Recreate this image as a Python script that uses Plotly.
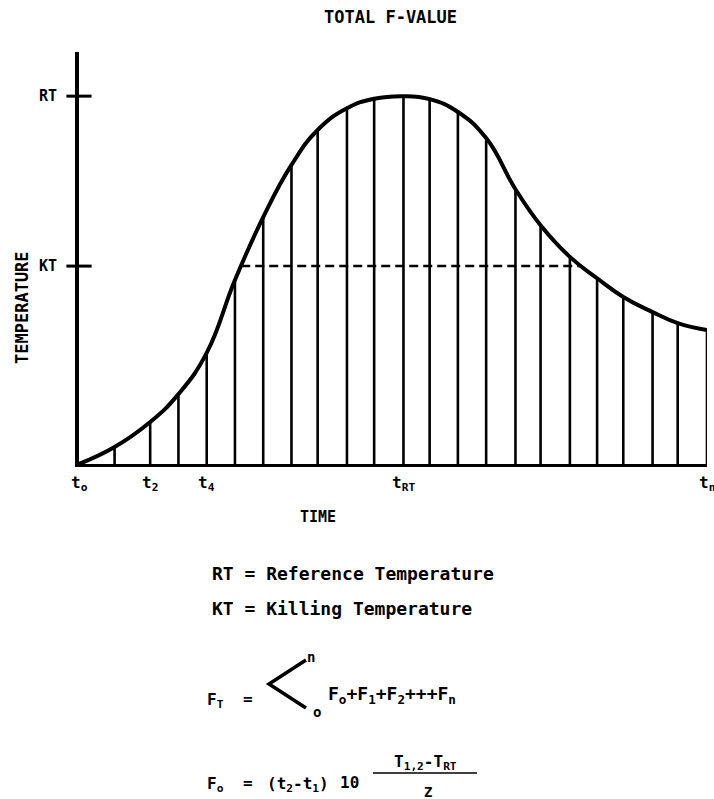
import plotly.graph_objects as go

# ---- data ----
time_min = [0, 3.4, 6.8, 9.5, 12.2, 14.9, 17.6, 20.3, 22.8, 25.6, 28.2, 31.0,
            33.5, 36.2, 38.9, 41.7, 44.1, 46.9, 49.5, 52.0, 54.8, 57.2, 60.0]
temperature = [0, 4.6, 11.4, 19.0, 30.2, 50.0, 67.1, 81.3, 90.8, 96.7, 99.3, 100.0,
               99.2, 95.7, 88.6, 74.7, 64.9, 56.3, 50.5, 45.4, 41.3, 38.3, 36.4]
RT = 100.0
KT = 53.8
y_ticks = [RT, KT]
y_ticktext = ["RT", "KT"]
x_tick_idx = [0, 2, 4, 11, 22]
x_ticktext = ["t<sub>o</sub>", "t<sub>2</sub>", "t<sub>4</sub>", "t<sub>RT</sub>", "t<sub>n</sub>"]

FONT = "DejaVu Sans Mono"
W, H = 714, 799
L, R, T, B = 79, 7, 52, 335
PW, PH = W - L - R, H - T - B


def px(x):
    return (x - L) / PW


def py(y):
    return (H - B - y) / PH


def interp_cross(level, rising=True):
    pairs = list(zip(time_min, temperature))
    for i in range(len(pairs) - 1):
        (x0, y0), (x1, y1) = pairs[i], pairs[i + 1]
        if rising and y0 <= level < y1:
            return x0 + (level - y0) / (y1 - y0) * (x1 - x0)
        if not rising and y0 >= level > y1 and x0 > time_min[11]:
            return x0 + (level - y0) / (y1 - y0) * (x1 - x0)
    return None


fig = go.Figure()

# vertical ordinates
vx, vy = [], []
for t, v in zip(time_min, temperature):
    vx += [t, t, None]
    vy += [0, v, None]
fig.add_trace(go.Scatter(x=vx, y=vy, mode="lines",
                         line=dict(color="black", width=2.6), hoverinfo="skip"))

# KT dashed line
k0 = interp_cross(KT, True)
k1 = interp_cross(KT, False)
fig.add_trace(go.Scatter(x=[k0, k1], y=[KT, KT], mode="lines",
                         line=dict(color="black", width=2.5, dash="9px,5px")))

# temperature curve
fig.add_trace(go.Scatter(x=time_min, y=temperature, mode="lines",
                         line=dict(color="black", width=4, shape="spline", smoothing=1.3)))

# cross ticks on the y axis
fig.add_trace(go.Scatter(x=[0, 0], y=y_ticks, mode="markers", cliponaxis=False,
                         marker=dict(symbol="line-ew", size=18,
                                     line=dict(color="black", width=3))))

fig.update_layout(
    width=W, height=H,
    margin=dict(l=L, r=R, t=T, b=B),
    paper_bgcolor="white", plot_bgcolor="white",
    showlegend=False,
    font=dict(family=FONT, color="black"),
)
fig.update_xaxes(range=[0, 60], showgrid=False, zeroline=False,
                 showline=True, linecolor="black", linewidth=3,
                 showticklabels=False, ticks="")
fig.update_yaxes(range=[0, 112], showgrid=False, zeroline=False,
                 showline=True, linecolor="black", linewidth=4,
                 tickmode="array", tickvals=y_ticks, ticktext=y_ticktext,
                 ticks="", ticklabelstandoff=15,
                 tickfont=dict(family=FONT, size=15, weight="bold"))

ann = []


def add_text(text, x, y, size=14, xanchor="center", angle=0):
    ann.append(dict(text=text, x=px(x), y=py(y), xref="paper", yref="paper",
                    showarrow=False, xanchor=xanchor, yanchor="middle",
                    textangle=angle,
                    font=dict(family=FONT, size=size, color="black", weight="bold")))


# x tick labels placed at the data times
for i, lab in zip(x_tick_idx, x_ticktext):
    ann.append(dict(text=lab, x=time_min[i], y=py(483), xref="x", yref="paper",
                    showarrow=False, xanchor="center", yanchor="middle",
                    font=dict(family=FONT, size=16, color="black", weight="bold")))

add_text("TOTAL F-VALUE", 390, 17, size=17)
add_text("TIME", 318, 517, size=15)
add_text("TEMPERATURE", 22, 308, size=17, angle=-90)
add_text("RT = Reference Temperature", 210, 573, size=18, xanchor="left")
add_text("KT = Killing Temperature", 210, 608, size=18, xanchor="left")
# first formula
add_text("F<sub>T</sub>", 205, 700, size=16, xanchor="left")
add_text("=", 248, 698, size=16)
add_text("n", 311, 657, size=14)
add_text("o", 317, 712, size=14)
add_text("F<sub>o</sub>+F<sub>1</sub>+F<sub>2</sub>+++F<sub>n</sub>", 326, 695, size=18, xanchor="left")
# second formula
add_text("F<sub>o</sub>", 205, 784, size=16, xanchor="left")
add_text("=", 248, 782, size=16)
add_text("(t<sub>2</sub>-t<sub>1</sub>)", 265, 784, size=16, xanchor="left")
add_text("10", 338, 782, size=16, xanchor="left")
add_text("T<sub>1,2</sub>-T<sub>RT</sub>", 425, 762, size=16)
add_text("Z", 428, 792, size=14)
fig.update_layout(annotations=ann)

# summation glyph and fraction bar (decorations)
fig.add_shape(type="path", xref="paper", yref="paper",
              path=f"M {px(306)},{py(660)} L {px(269)},{py(684)} L {px(306)},{py(708)}",
              line=dict(color="black", width=3.5))
fig.add_shape(type="line", xref="paper", yref="paper",
              x0=px(373), x1=px(477), y0=py(773), y1=py(773),
              line=dict(color="black", width=1.5))

fig.write_html("out.html", config={"displayModeBar": False},
               post_script="document.body.style.margin='0';document.body.style.overflow='hidden';")
